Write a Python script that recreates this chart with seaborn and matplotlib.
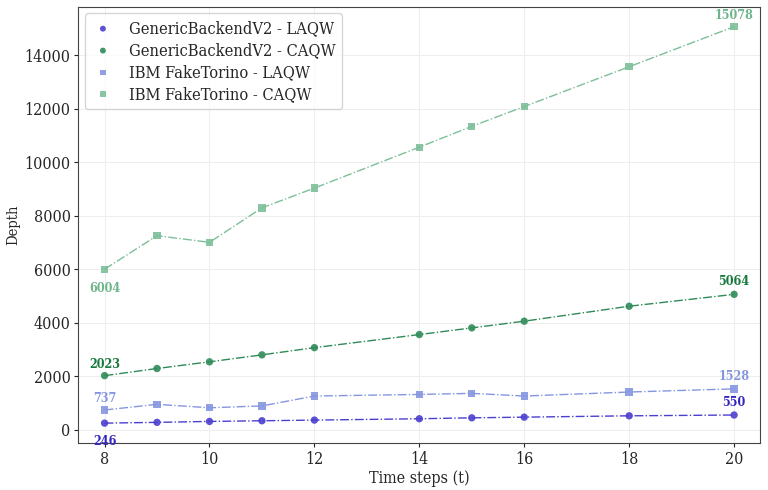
import matplotlib
matplotlib.use("Agg")
import matplotlib.pyplot as plt
import seaborn as sns
import pandas as pd

time_steps = [8, 9, 10, 11, 12, 14, 15, 16, 18, 20]
generic_laqw = [246, 275, 310, 335, 360, 410, 445, 470, 520, 550]
generic_caqw = [2023, 2290, 2540, 2800, 3070, 3560, 3810, 4060, 4620, 5064]
torino_laqw = [737, 950, 820, 890, 1260, 1320, 1360, 1260, 1410, 1528]
torino_caqw = [6004, 7260, 7010, 8300, 9040, 10570, 11350, 12090, 13580, 15078]

series_names = ["GenericBackendV2 - LAQW", "GenericBackendV2 - CAQW",
                "IBM FakeTorino - LAQW", "IBM FakeTorino - CAQW"]
series_values = [generic_laqw, generic_caqw, torino_laqw, torino_caqw]

colors = ["#4b3fcf", "#2e8b57", "#8596e0", "#7cbf98"]
text_colors = ["#3326c0", "#17793d", "#8596e0", "#6fb58c"]
markers = ["o", "o", "s", "s"]

sns.set_style("ticks")
plt.rcParams['font.family'] = ['DejaVu Serif']
plt.rcParams['font.stretch'] = 'condensed'

fig, ax = plt.subplots(figsize=(7.68, 4.9), dpi=100)
ax.grid(True, color="#eeeeee", linewidth=0.8)
ax.set_axisbelow(True)

for name, vals, c, m in zip(series_names, series_values, colors, markers):
    df = pd.DataFrame({"t": time_steps, "depth": vals})
    sns.lineplot(data=df, x="t", y="depth", ax=ax, color=c, linestyle="-.",
                 linewidth=1.0, legend=False)
    sns.scatterplot(data=df, x="t", y="depth", ax=ax, color=c, marker=m,
                    s=28, edgecolor="none", alpha=0.9, label=name)

offsets = {
    0: ((0, -13), (0, 9)),
    1: ((0, 8), (0, 9)),
    2: ((0, 8), (0, 9)),
    3: ((0, -14), (0, 8)),
}
for i, (vals, tc) in enumerate(zip(series_values, text_colors)):
    (o1, o2) = offsets[i]
    ax.annotate(str(vals[0]), (time_steps[0], vals[0]), xytext=o1,
                textcoords="offset points", ha="center", va="center",
                fontsize=9, fontweight="bold", color=tc)
    ax.annotate(str(vals[-1]), (time_steps[-1], vals[-1]), xytext=o2,
                textcoords="offset points", ha="center", va="center",
                fontsize=9, fontweight="bold", color=tc)

ax.set_xlim(7.5, 20.5)
ax.set_xlabel("Time steps (t)", fontsize=11.5, labelpad=2)
ax.set_ylabel("Depth", fontsize=10.5, labelpad=3)
ax.tick_params(labelsize=11.5, pad=2.5, length=3)
ax.set_xticks([8, 10, 12, 14, 16, 18, 20])
for sp in ax.spines.values():
    sp.set_color("#444444")

leg = ax.legend(loc="upper left", fontsize=11.8, frameon=True, markerscale=0.8,
                labelspacing=0.3, handlelength=1.4, handletextpad=0.9,
                borderaxespad=0.4)
leg.get_frame().set_edgecolor("#cccccc")

fig.subplots_adjust(left=0.102, right=0.99, top=0.986, bottom=0.096)
fig.savefig("out.png", dpi=100)
